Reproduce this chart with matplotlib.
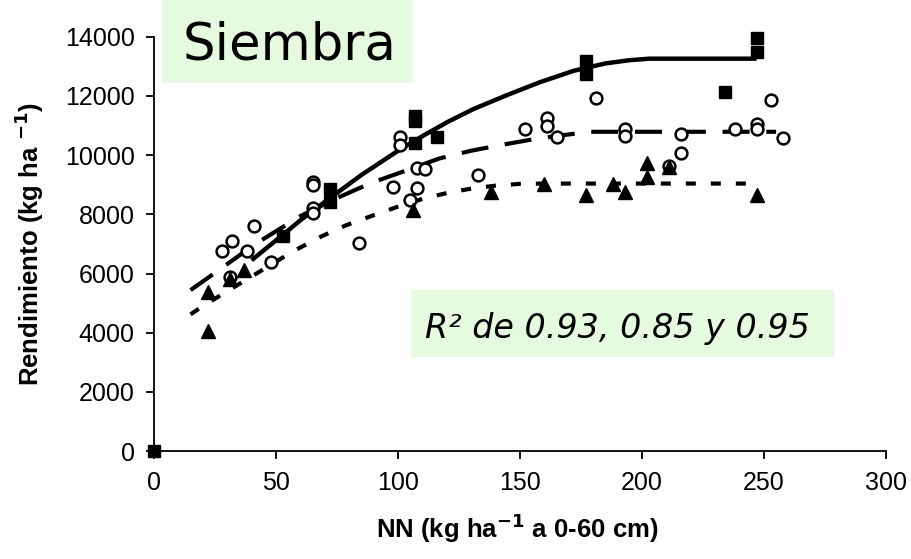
import matplotlib
matplotlib.use('Agg')
import matplotlib.pyplot as plt
from matplotlib.patches import Rectangle

# NN (kg/ha 0-60 cm) vs rendimiento (kg/ha), tres grupos
sq_x = [0, 53, 72, 72, 107, 107, 107, 116, 177, 177, 234, 247, 247]
sq_y = [0, 7260, 8850, 8420, 11330, 11150, 10400, 10600, 13180, 12750, 12150, 13960, 13480]

circ_x = [28, 32, 31, 38, 41, 48, 65, 65, 65, 65, 84, 98, 108, 105, 101, 101, 108, 111,
          133, 152, 161, 161, 165, 181, 193, 193, 211, 216, 216, 238, 247, 247, 253, 258]
circ_y = [6760, 7100, 5900, 6760, 7600, 6400, 9100, 9000, 8200, 8050, 7020, 8930, 8900, 8480,
          10620, 10340, 9580, 9520, 9320, 10900, 11240, 10980, 10620, 11940, 10900, 10640,
          9620, 10730, 10080, 10890, 11060, 10900, 11870, 10580]

tri_x = [22, 22, 31, 37, 106, 138, 160, 177, 188, 193, 202, 202, 211, 247]
tri_y = [4050, 5380, 5830, 6110, 8140, 8760, 9040, 8670, 9040, 8760, 9730, 9270, 9600, 8650]

# curvas de ajuste
fit_sq_x = [40, 53, 60, 71, 85, 101, 111, 121, 131, 145, 158, 172, 185, 195, 203, 247]
fit_sq_y = [6450, 7320, 7800, 8480, 9330, 10200, 10690, 11150, 11560, 12040, 12460, 12850,
            13100, 13210, 13260, 13260]

fit_ci_x = [15, 27, 41, 60, 75, 84, 92, 103, 117, 130, 142, 155, 165, 179, 255]
fit_ci_y = [5440, 6140, 6970, 7940, 8550, 8880, 9150, 9470, 9890, 10150, 10340, 10530,
            10650, 10790, 10790]

fit_tr_x = [15, 20, 28, 38, 48, 57, 69, 79, 90, 100, 110, 120, 130, 140, 150, 160, 247]
fit_tr_y = [4620, 4900, 5300, 5800, 6300, 6750, 7270, 7640, 7970, 8260, 8520, 8720, 8870,
            8970, 9030, 9040, 9040]

plt.rcParams['font.family'] = ['Liberation Sans', 'DejaVu Sans']

fig = plt.figure(figsize=(9.11, 5.59), dpi=100)
ax = fig.add_axes([0.169, 0.193, 0.8035, 0.7412])

ax.plot(fit_sq_x, fit_sq_y, color='black', lw=3.2, solid_capstyle='butt', zorder=2)
ax.plot(fit_ci_x, fit_ci_y, color='black', lw=3.0, dashes=(6.5, 4), dash_capstyle='butt', zorder=2)
ax.plot(fit_tr_x, fit_tr_y, color='black', lw=3.0, dashes=(2.4, 3.6), dash_capstyle='butt', zorder=2)

ax.plot(sq_x, sq_y, 's', color='black', ms=8.5, zorder=3, clip_on=False)
ax.plot(circ_x, circ_y, 'o', mfc='white', mec='black', mew=1.8, ms=8.5, zorder=4)
ax.plot(tri_x, tri_y, '^', color='black', ms=10, zorder=5)

ax.set_xlim(0, 300)
ax.set_ylim(0, 14000)
ax.set_xticks(range(0, 301, 50))
ax.set_yticks(range(0, 14001, 2000))
ax.spines['top'].set_visible(False)
ax.spines['right'].set_visible(False)
ax.spines['left'].set_linewidth(1.3)
ax.spines['bottom'].set_linewidth(1.3)
ax.tick_params(direction='out', length=6, width=1.3, labelsize=18, pad=8)

ax.set_xlabel('NN (kg ha$^{\\mathbf{-1}}$ a 0-60 cm)', fontsize=18.5, fontweight='bold')
ax.set_ylabel('Rendimiento (kg ha $^{\\mathbf{-1}}$)', fontsize=18.5, fontweight='bold')
ax.xaxis.set_label_coords(0.497, -0.145)
ax.yaxis.set_label_coords(-0.1475, 0.5)

green = '#e6fae0'
fig.patches.append(Rectangle((162 / 911, 1 - 83 / 559), (413 - 162) / 911, 83 / 559,
                             transform=fig.transFigure, facecolor=green, edgecolor='none', zorder=0))
fig.text(183 / 911, 1 - 60 / 559, 'Siembra', fontsize=37, family='DejaVu Sans',
         ha='left', va='baseline')

fig.patches.append(Rectangle((411 / 911, 1 - 357 / 559), (834 - 411) / 911, 67 / 559,
                             transform=fig.transFigure, facecolor=green, edgecolor='none', zorder=0))
fig.text(425 / 911, 1 - 338 / 559, 'R² de 0.93, 0.85 y 0.95', fontsize=24, style='italic',
         family='DejaVu Sans', ha='left', va='baseline', zorder=6)

fig.savefig('out.png', dpi=100)
